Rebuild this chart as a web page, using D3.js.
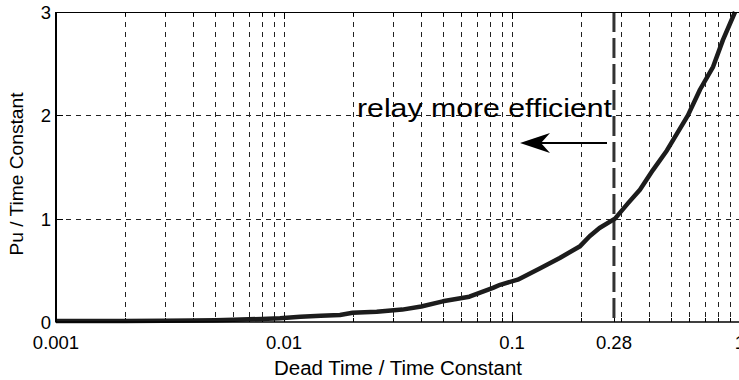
<!DOCTYPE html>
<html><head><meta charset="utf-8">
<script src="https://cdn.jsdelivr.net/npm/d3@7"></script>
<style>
body{margin:0;background:#fff}
svg{display:block;font-family:"Liberation Sans",Arial,Helvetica,sans-serif}
</style>
</head><body>
<svg id="chart" width="739" height="380"></svg>
<script>
// Dead time / time constant ratio and the resulting ultimate period ratio
const deadTime = [0.001,0.0015,0.002,0.003,0.004,0.005,0.006,0.007,0.008,0.0096,0.0118,0.0145,0.0176,0.02,0.0255,0.033,0.04,0.0497,0.065,0.0825,0.0887,0.106,0.133,0.162,0.198,0.219,0.242,0.283,0.323,0.364,0.415,0.478,0.591,0.668,0.762,0.842,0.951];
const puRatio  = [0.01,0.01,0.01,0.012,0.015,0.018,0.022,0.026,0.03,0.036,0.05,0.06,0.068,0.09,0.10,0.12,0.15,0.20,0.245,0.33,0.36,0.41,0.52,0.62,0.73,0.83,0.91,1.0,1.15,1.28,1.47,1.66,2.0,2.25,2.47,2.73,3.0];

const xTickValues = [0.001,0.01,0.1,0.28,1];
const xTickLabels = ["0.001","0.01","0.1","0.28","1"];
const yTickValues = [0,1,2,3];
const yTickLabels = ["0","1","2","3"];
const markerRatio = 0.28;
const annotationText = "relay more efficient";

const svg = d3.select("#chart");
const m = {left:56, right:740, top:12, bottom:322};

const x = d3.scaleLog().domain([0.001,1]).range([m.left,m.right]);
const y = d3.scaleLinear().domain([0,3]).range([m.bottom,m.top]);

// minor log positions (1..9 per decade)
const gridX = [];
for (let e=-3;e<0;e++) for (let k=1;k<=9;k++) gridX.push(k*Math.pow(10,e));
const innerGridX = gridX.filter(v => v>0.001*1.0001);

const g = svg.append("g");

// vertical grid
g.selectAll("line.vgrid").data(innerGridX).join("line")
  .attr("class","vgrid")
  .attr("x1",d=>Math.round(x(d))+0.5).attr("x2",d=>Math.round(x(d))+0.5)
  .attr("y1",y(3)).attr("y2",y(0))
  .attr("stroke","#222").attr("stroke-width",1).attr("stroke-dasharray","5,5");

// horizontal grid
g.selectAll("line.hgrid").data(yTickValues.slice(1,-1)).join("line")
  .attr("class","hgrid")
  .attr("x1",m.left).attr("x2",m.right)
  .attr("y1",d=>Math.round(y(d))+0.5).attr("y2",d=>Math.round(y(d))+0.5)
  .attr("stroke","#222").attr("stroke-width",1).attr("stroke-dasharray","5,5");

// tick marks, inside the box, bottom and top
const majors = new Set(xTickValues);
const tickData = innerGridX.concat([markerRatio]);
["bottom","top"].forEach(side=>{
  const y0 = side==="bottom" ? m.bottom : m.top;
  const dir = side==="bottom" ? -1 : 1;
  g.selectAll("line.xt-"+side).data(tickData).join("line")
    .attr("x1",d=>Math.round(x(d))+0.5).attr("x2",d=>Math.round(x(d))+0.5)
    .attr("y1",y0).attr("y2",d=>y0+dir*(majors.has(d)?7:4))
    .attr("stroke","#000").attr("stroke-width",1);
});
g.selectAll("line.yt").data(yTickValues.slice(1,-1)).join("line")
  .attr("x1",m.left).attr("x2",m.left+7)
  .attr("y1",d=>Math.round(y(d))+0.5).attr("y2",d=>Math.round(y(d))+0.5)
  .attr("stroke","#000");

// marker line at the chosen ratio
g.append("line")
  .attr("x1",x(markerRatio)).attr("x2",x(markerRatio))
  .attr("y1",y(3)).attr("y2",y(0))
  .attr("stroke","#333").attr("stroke-width",3).attr("stroke-dasharray","20,6");

// curve
svg.append("clipPath").attr("id","plotclip").append("rect")
  .attr("x",m.left).attr("y",m.top-2).attr("width",m.right-m.left).attr("height",m.bottom-m.top+4);
const line = d3.line().x((d,i)=>x(deadTime[i])).y(d=>y(d));
g.append("path").datum(puRatio)
  .attr("clip-path","url(#plotclip)")
  .attr("d",line).attr("fill","none")
  .attr("stroke","#1c1c1c").attr("stroke-width",4.5).attr("stroke-linejoin","round");

// box
g.append("line").attr("x1",m.left).attr("x2",m.right).attr("y1",m.top+0.5).attr("y2",m.top+0.5).attr("stroke","#000");
g.append("line").attr("x1",m.left).attr("x2",m.right).attr("y1",m.bottom).attr("y2",m.bottom).attr("stroke","#000").attr("stroke-width",1.5);
g.append("line").attr("x1",m.left).attr("x2",m.left).attr("y1",m.top).attr("y2",m.bottom+0.5).attr("stroke","#000").attr("stroke-width",2);
g.append("line").attr("x1",m.right).attr("x2",m.right).attr("y1",m.top).attr("y2",m.bottom).attr("stroke","#000");

// tick labels
g.selectAll("text.xl").data(xTickValues).join("text")
  .attr("x",d=>x(d)).attr("y",349)
  .attr("text-anchor","middle").attr("font-size",18.5)
  .text((d,i)=>xTickLabels[i]);
g.selectAll("text.yl").data(yTickValues).join("text")
  .attr("x",51).attr("y",d=>y(d)+7)
  .attr("text-anchor","end").attr("font-size",18.5)
  .text((d,i)=>yTickLabels[i]);

// axis titles
svg.append("text").attr("x",(m.left+m.right)/2).attr("y",375)
  .attr("text-anchor","middle").attr("font-size",19.5)
  .attr("textLength",248).attr("lengthAdjust","spacingAndGlyphs")
  .text("Dead Time / Time Constant");
svg.append("text").attr("transform","translate(23,174) rotate(-90)")
  .attr("text-anchor","middle").attr("font-size",19)
  .attr("textLength",163).attr("lengthAdjust","spacingAndGlyphs")
  .text("Pu / Time Constant");

// annotation
svg.append("text").attr("x",357).attr("y",117).attr("font-size",26)
  .attr("textLength",255).attr("lengthAdjust","spacingAndGlyphs")
  .text(annotationText);
const ay = 143, ax0 = 607, ax1 = 520;
svg.append("line").attr("x1",ax0).attr("x2",ax1+10).attr("y1",ay).attr("y2",ay)
  .attr("stroke","#000").attr("stroke-width",2);
svg.append("path")
  .attr("d",`M${ax1},${ay} L${ax1+30},${ay-10} L${ax1+21},${ay} L${ax1+30},${ay+10} Z`)
  .attr("fill","#000");
</script>
</body></html>
